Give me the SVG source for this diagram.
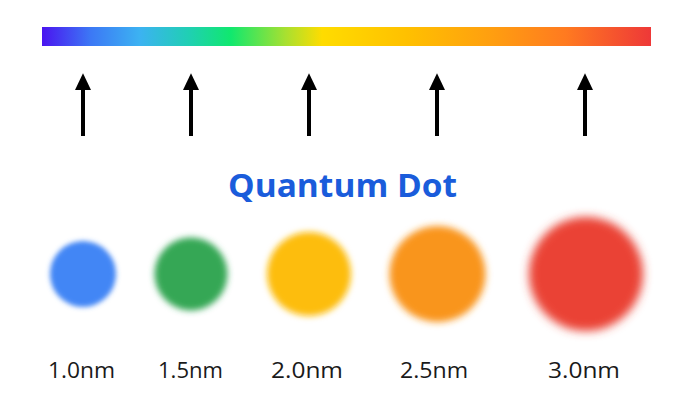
<svg xmlns="http://www.w3.org/2000/svg" width="693" height="413" viewBox="0 0 693 413">
<defs>
<linearGradient id="spec" x1="0" y1="0" x2="1" y2="0">
<stop offset="0" stop-color="#4A14F0"/>
<stop offset="0.08" stop-color="#3C78F5"/>
<stop offset="0.16" stop-color="#3CB2F2"/>
<stop offset="0.24" stop-color="#20CFB4"/>
<stop offset="0.31" stop-color="#10E86E"/>
<stop offset="0.40" stop-color="#A8E030"/>
<stop offset="0.46" stop-color="#FFDC00"/>
<stop offset="0.60" stop-color="#FFC000"/>
<stop offset="0.74" stop-color="#FF9E10"/>
<stop offset="0.86" stop-color="#FF7A20"/>
<stop offset="1" stop-color="#EE3838"/>
</linearGradient>
<filter id="soft1" x="-30%" y="-30%" width="160%" height="160%"><feGaussianBlur stdDeviation="2.6"/></filter>
<filter id="soft2" x="-30%" y="-30%" width="160%" height="160%"><feGaussianBlur stdDeviation="3"/></filter>
<filter id="soft3" x="-30%" y="-30%" width="160%" height="160%"><feGaussianBlur stdDeviation="3.4"/></filter>
<filter id="soft4" x="-30%" y="-30%" width="160%" height="160%"><feGaussianBlur stdDeviation="3.8"/></filter>
<filter id="soft5" x="-30%" y="-30%" width="160%" height="160%"><feGaussianBlur stdDeviation="4.6"/></filter>
<marker id="ah" markerWidth="4.2" markerHeight="4" refX="0" refY="2" orient="auto" markerUnits="strokeWidth">
<path d="M0,0 L4.2,2 L0,4 Z" fill="#000"/>
</marker>
<style>
.arrow{stroke:#000;stroke-width:4;fill:none;}
.lbl{font-family:"Open Sans","Liberation Sans",sans-serif;font-size:22px;fill:#1a1a1a;text-anchor:middle;}
.title{font-family:"Open Sans","Liberation Sans",sans-serif;font-size:32px;font-weight:700;fill:#1A5CDB;text-anchor:middle;}
</style>
</defs>
<rect width="693" height="413" fill="#fff"/>
<g id="spectrum"><rect x="42" y="27" width="609" height="19" fill="url(#spec)"/></g>
<g id="connectors">
<path class="arrow" d="M83,136 V90" marker-end="url(#ah)"/>
<path class="arrow" d="M191,136 V90" marker-end="url(#ah)"/>
<path class="arrow" d="M309,136 V90" marker-end="url(#ah)"/>
<path class="arrow" d="M437,136 V90" marker-end="url(#ah)"/>
<path class="arrow" d="M585,136 V90" marker-end="url(#ah)"/>
</g>
<g id="title"><text class="title" x="342.5" y="197" textLength="229" lengthAdjust="spacingAndGlyphs">Quantum Dot</text></g>
<g id="dot1"><circle filter="url(#soft1)" cx="83" cy="274" r="33" fill="#4286F5"/><text class="lbl" x="81.5" y="378" textLength="67" lengthAdjust="spacingAndGlyphs">1.0nm</text></g>
<g id="dot2"><circle filter="url(#soft2)" cx="191" cy="274" r="36.5" fill="#36A755"/><text class="lbl" x="190.5" y="378" textLength="65" lengthAdjust="spacingAndGlyphs">1.5nm</text></g>
<g id="dot3"><circle filter="url(#soft3)" cx="309" cy="274" r="42" fill="#FDBD0A"/><text class="lbl" x="307" y="378" textLength="72" lengthAdjust="spacingAndGlyphs">2.0nm</text></g>
<g id="dot4"><circle filter="url(#soft4)" cx="437.5" cy="274" r="48" fill="#F9951C"/><text class="lbl" x="434" y="378" textLength="68" lengthAdjust="spacingAndGlyphs">2.5nm</text></g>
<g id="dot5"><circle filter="url(#soft5)" cx="586" cy="274" r="57" fill="#EA4234"/><text class="lbl" x="584" y="378" textLength="72" lengthAdjust="spacingAndGlyphs">3.0nm</text></g>
</svg>
